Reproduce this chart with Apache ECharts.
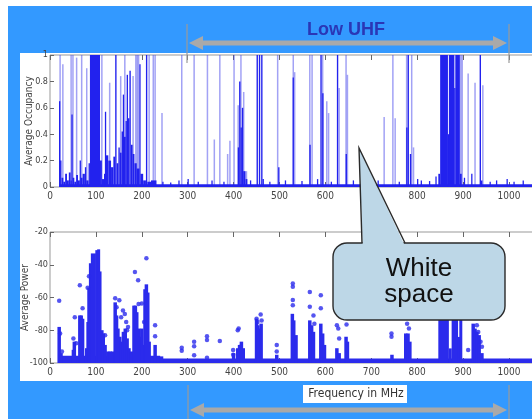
<!DOCTYPE html>
<html><head><meta charset="utf-8">
<script src="https://cdn.jsdelivr.net/npm/echarts/dist/echarts.min.js"></script>
<style>html,body{margin:0;padding:0;background:#fff}#c{width:532px;height:419px}</style>
</head><body><div id="c"></div>
<script>
// ---- data (frequency in MHz) ----
const freqMin = 0, freqMax = 1100, freqStep = 100;
const occTicks = [0, 0.2, 0.4, 0.6, 0.8, 1];
const powTicks = [-100, -80, -60, -40, -20];

// dark occupancy spans [f0, f1, occupancy]
const occDark = [
 [20,1100,0.02],
 [20,22,0.65],[22,25,0.2],[25,29,0.07],[29,33,0.04],[33,37,0.1],[37,41,0.05],[41,45,0.11],[45,47,0.05],[47,49,0.55],[49,53,0.07],[53,57,0.04],[57,61,0.09],[61,65,0.05],[65,67,0.2],[67,71,0.07],[71,76,0.1],[76,79,0.15],[79,84,0.05],[84,87,0.18],
 [87,109,1.0],
 [109,113,0.2],[113,118,0.06],[118,120,0.1],[120,122,0.57],[122,127,0.24],[127,133,0.2],[133,138,0.15],[138,142,0.23],[142,145,1.0],[145,149,0.18],[149,152,0.3],[152,156,0.26],[156,159,0.42],[159,161,0.7],[161,165,0.38],[165,167,0.5],[167,170,0.85],[170,173,0.52],[173,176,0.88],[176,180,0.32],[180,184,0.25],[184,189,0.18],[189,195,0.14],[195,197,0.93],[197,203,0.1],[203,209,0.05],[209,212,1.0],[212,220,0.04],[220,232,0.05],
 [245,247,0.04],[262,264,0.035],[280,282,0.05],[300,302,0.06],[322,324,0.04],[352,354,0.05],[378,380,0.04],[436,438,0.05],[478,480,0.04],[512,514,0.05],[548,550,0.045],[582,584,0.06],[612,614,0.04],[660,662,0.05],[690,692,0.04],[714,716,0.05],[760,762,0.04],[800,802,0.06],[808,810,0.05],[826,828,0.045],[840,842,0.08],[902,904,0.07],[918,920,0.1],[958,960,0.04],[972,974,0.05],[995,997,0.06],[1010,1012,0.04],[1030,1032,0.05],
 [409,412,0.3],[412,415,0.8],[415,418,0.45],[418,421,0.6],[421,426,0.12],[426,430,0.06],
 [450,453,1.0],[455,458,1.0],[460,463,1.0],[463,466,0.06],
 [497,500,0.15],[529,531,0.83],[565,568,0.32],[589,592,1.0],[593,596,0.71],[625,628,1.0],[644,647,0.25],[776,779,0.45],[779,782,1.0],[784,787,0.25],
 [846,850,0.1],[850,867,1.0],[867,869,0.4],[869,881,1.0],[881,883,0.75],[883,893,1.0],[893,897,0.1],
 [936,939,1.0],[939,942,0.05]
];
// light (faint) occupancy lines [f, occupancy]
const occLight = [
 [22,1],[28,0.93],[46,1],[50,1],[58,0.98],[69,1],[80,0.9],[113,1],[130,0.79],[154,0.84],[163,1],[181,0.84],[187,1],[190,1],[193,1],[216,1],[225,1],[229,1],[244,0.56],[287,1],[314,1],[343,1],[358,0.36],[370,1],[387,0.25],[392,0.35],[401,1],[410,0.62],[416,1],[422,0.72],[428,0.12],[496,1],[530,1],[533,0.87],[566,1],[571,1],[594,1],[603,0.65],[607,0.56],[630,0.75],[645,1],[648,0.85],[728,0.53],[747,1],[752,0.52],[777,1],[788,1],[792,0.3],[895,1],[898,1],[911,0.86],[926,0.79],[943,0.77]
];
// power: dense bands [f0, f1, top dBm]
const powSpans = [
 [20,240,-96.5],[240,1100,-98.2],
 [87,89,-40],[89,100,-34],[100,104,-32],[104,108,-31.5],[108,110,-45],
 [846,869,-60],[869,875,-92],[875,889,-60],[889,892,-85],[892,898,-62]
];
// power: dense columns of points [f, top dBm]
const powCols = [
 [20,-79],[24,-95],[51,-93],[53,-88],[65,-72],[68,-72],[71,-74],[80,-92],[83,-76],[85,-55],[113,-81],[116,-83],[120,-90],[126,-94],[131,-94],[136,-94],[142,-64],[145,-72],[148,-80],[152,-85],[156,-88],[160,-82],[164,-80],[168,-86],[172,-92],[178,-94],[183,-66],[186,-66],[189,-70],[193,-80],[197,-85],[200,-80],[204,-90],[207,-56],[210,-53],[213,-58],[216,-88],[229,-90],[243,-97],
 [400,-95],[409,-92],[413,-90],[417,-88],[421,-92],[450,-74],[453,-78],[457,-80],[460,-77],[494,-96],[528,-71],[531,-75],[536,-84],[566,-75],[570,-78],[574,-82],[590,-77],[594,-83],[598,-90],[625,-92],[630,-95],[645,-85],[648,-88],[745,-96],[775,-83],[780,-83],[784,-88],[922,-77],[926,-80],[930,-82],[935,-84],[941,-95]
];
// power: isolated points [f, dBm]
const powDots = [
 [20,-62],[22,-82],[26,-93],[51,-85],[54,-72],[57,-88],[65,-52.5],[71,-66.5],[82,-54],[85,-47],[120,-83],[142,-60.5],[145,-66],[151,-61.7],[155,-72],[159,-68],[163,-70],[166,-75],[168,-80],[170,-78],[185,-44.5],[192,-49.5],[193,-64],[200,-63.6],[205,-75],[210,-36],[229,-77],[229,-83.6],[287,-90.7],[287,-92.5],[314,-87],[314,-89.7],[314,-95.2],[342,-83.6],[342,-86],[342,-96.8],[370,-86.6],[399,-92],[399,-95],[409,-80],[411,-79],[415,-90],[450,-73],[452,-75],[459,-70.4],[461,-74],[494,-89],[494,-93],[529,-51.5],[529,-53.5],[529,-61.6],[529,-64.7],[566,-56.6],[566,-65.7],[590,-58.6],[590,-66.5],[574,-71],[576,-76],[625,-77],[628,-79],[630,-85],[646,-76.5],[744,-82],[744,-84],[778,-76],[782,-79],[911,-92],[930,-77],[933,-81],[938,-87],[941,-90]
];

const DARK = '#2222ee';
const LIGHT = 'rgba(70,70,235,0.5)';
const DOT = '#2b2bec';
const tickFont = "'Liberation Sans Narrow','DejaVu Sans Condensed',sans-serif";

function spanRender(base, minW, pad) {
  return function (params, api) {
    const p0 = api.coord([api.value(0), base]);
    const p1 = api.coord([api.value(1), api.value(2)]);
    let w = p1[0] - p0[0]; let x = p0[0];
    if (w < minW) { x -= (minW - w) / 2; w = minW; }
    return { type: 'rect', shape: { x: x, y: p1[1] - pad, width: w, height: p0[1] - p1[1] + pad * 2 },
      style: { fill: api.visual('color') } };
  };
}
function lineRender(base, w, pad) {
  return function (params, api) {
    const p0 = api.coord([api.value(0), base]);
    const p1 = api.coord([api.value(0), api.value(1)]);
    return { type: 'rect', shape: { x: p0[0] - w / 2, y: p1[1] - pad, width: w, height: p0[1] - p1[1] + pad * 2 },
      style: { fill: api.visual('color') } };
  };
}

const rightPad = 532 - 50 - (freqMax - freqMin) * 0.459;
const axisLbl = { fontFamily: tickFont, fontSize: 10, color: '#444' };
const yLbl = { fontFamily: tickFont, fontSize: 9, color: '#444' };
function xAx(gi, pos, labels) {
  return { type: 'value', gridIndex: gi, position: pos, min: freqMin, max: freqMax, interval: freqStep,
    axisLine: { show: false }, splitLine: { show: false },
    axisTick: { show: true, inside: true, length: 5, lineStyle: { color: '#666' } },
    axisLabel: labels ? Object.assign({ show: true, margin: 4, formatter: v => String(v) }, axisLbl) : { show: false } };
}
const chart = echarts.init(document.getElementById('c'), null, { renderer: 'canvas' });
chart.setOption({
  animation: false,
  backgroundColor: '#ffffff',
  grid: [
    { left: 50, top: 55, right: rightPad, height: 132, show: true, borderColor: '#999', borderWidth: 1, backgroundColor: '#fff',
      containLabel: false, outerBoundsMode: 'none' },
    { left: 50, top: 232, right: rightPad, height: 131, show: true, borderColor: '#999', borderWidth: 1, backgroundColor: '#fff',
      containLabel: false, outerBoundsMode: 'none' }
  ],
  xAxis: [xAx(0, 'bottom', true), xAx(0, 'top', false), xAx(1, 'bottom', true), xAx(1, 'top', false)],
  yAxis: [
    { type: 'value', gridIndex: 0, min: occTicks[0], max: occTicks[occTicks.length - 1], interval: 0.2,
      axisLine: { show: false }, splitLine: { show: false },
      axisTick: { inside: true, length: 4, lineStyle: { color: '#666' } },
      axisLabel: Object.assign({ margin: 2 }, yLbl),
      name: 'Average Occupancy', nameLocation: 'middle', nameGap: 16, nameMoveOverlap: false,
      nameTextStyle: { fontFamily: tickFont, fontSize: 10, color: '#444' } },
    { type: 'value', gridIndex: 1, min: powTicks[0], max: powTicks[powTicks.length - 1], interval: 20,
      axisLine: { show: false }, splitLine: { show: false },
      axisTick: { inside: true, length: 4, lineStyle: { color: '#666' } },
      axisLabel: Object.assign({ margin: 2 }, yLbl),
      name: 'Average Power', nameLocation: 'middle', nameGap: 20, nameMoveOverlap: false,
      nameTextStyle: { fontFamily: tickFont, fontSize: 10, color: '#444' } }
  ],
  series: [
    { type: 'custom', xAxisIndex: 0, yAxisIndex: 0, data: occLight, itemStyle: { color: LIGHT },
      renderItem: lineRender(0, 1.5, 0), encode: { x: 0, y: 1 }, z: 2, clip: true },
    { type: 'custom', xAxisIndex: 0, yAxisIndex: 0, data: occDark, itemStyle: { color: DARK },
      renderItem: spanRender(0, 1.3, 0), encode: { x: [0, 1], y: 2 }, z: 3, clip: true },
    { type: 'custom', xAxisIndex: 2, yAxisIndex: 1, data: powSpans, itemStyle: { color: DOT },
      renderItem: spanRender(-100, 3, 1.5), encode: { x: [0, 1], y: 2 }, z: 3, clip: true },
    { type: 'custom', xAxisIndex: 2, yAxisIndex: 1, data: powCols, itemStyle: { color: DOT },
      renderItem: lineRender(-100, 3.5, 1.7), encode: { x: 0, y: 1 }, z: 3, clip: true },
    { type: 'scatter', xAxisIndex: 2, yAxisIndex: 1, data: powDots, symbolSize: 4.5,
      itemStyle: { color: DOT }, z: 4 }
  ],
  graphic: [
    { type: 'rect', z: -20, silent: true, shape: { x: 8, y: 6, width: 524, height: 413 }, style: { fill: '#3399ff' } },
    { type: 'rect', z: -19, silent: true, shape: { x: 20, y: 53, width: 512, height: 328 }, style: { fill: '#ffffff' } },
    // Low UHF bracket (top)
    { type: 'line', z: 50, shape: { x1: 187, y1: 24, x2: 187, y2: 63 }, style: { stroke: '#9a9a9a', lineWidth: 1.2 } },
    { type: 'line', z: 50, shape: { x1: 509, y1: 24, x2: 509, y2: 63 }, style: { stroke: '#9a9a9a', lineWidth: 1.2 } },
    { type: 'line', z: 50, shape: { x1: 200, y1: 43, x2: 496, y2: 43 }, style: { stroke: '#a9a9a9', lineWidth: 5 } },
    { type: 'polygon', z: 50, shape: { points: [[189, 43], [203, 36], [203, 50]] }, style: { fill: '#a9a9a9' } },
    { type: 'polygon', z: 50, shape: { points: [[507, 43], [493, 36], [493, 50]] }, style: { fill: '#a9a9a9' } },
    { type: 'text', z: 50, style: { x: 346, y: 30, text: 'Low UHF', align: 'center', verticalAlign: 'middle',
      font: 'bold 18px "Liberation Sans", Arial, sans-serif', fill: '#2a36b6' } },
    // bottom bracket
    { type: 'line', z: 50, shape: { x1: 188, y1: 385, x2: 188, y2: 419 }, style: { stroke: '#9a9a9a', lineWidth: 1.2 } },
    { type: 'line', z: 50, shape: { x1: 509, y1: 385, x2: 509, y2: 419 }, style: { stroke: '#9a9a9a', lineWidth: 1.2 } },
    { type: 'line', z: 50, shape: { x1: 202, y1: 410, x2: 496, y2: 410 }, style: { stroke: '#a9a9a9', lineWidth: 5 } },
    { type: 'polygon', z: 50, shape: { points: [[190, 410], [204, 403], [204, 417]] }, style: { fill: '#a9a9a9' } },
    { type: 'polygon', z: 50, shape: { points: [[507, 410], [493, 403], [493, 417]] }, style: { fill: '#a9a9a9' } },
    // x axis title box
    { type: 'rect', z: 50, shape: { x: 303, y: 385, width: 104, height: 18 }, style: { fill: '#ffffff' } },
    { type: 'text', z: 51, style: { x: 356, y: 394, text: 'Frequency in MHz', align: 'center', verticalAlign: 'middle',
      font: '12px ' + tickFont, fill: '#333' } },
    // callout: body, tail fill, tail outline
    { type: 'rect', z: 60, shape: { x: 333, y: 243, width: 172, height: 77, r: 14 },
      style: { fill: '#bdd7e7', stroke: '#2a2a2a', lineWidth: 1.4 } },
    { type: 'polygon', z: 61, shape: { points: [[362.7, 244.5], [359, 148], [404.3, 244.5]] },
      style: { fill: '#bdd7e7' } },
    { type: 'polyline', z: 62, shape: { points: [[362, 243], [359, 148], [405, 243]] },
      style: { fill: null, stroke: '#2a2a2a', lineWidth: 1.4 } },
    { type: 'text', z: 63, style: { x: 419, y: 269, text: 'White', align: 'center', verticalAlign: 'middle',
      font: '26px "Liberation Sans", Arial, sans-serif', fill: '#111' } },
    { type: 'text', z: 63, style: { x: 419, y: 295, text: 'space', align: 'center', verticalAlign: 'middle',
      font: '26px "Liberation Sans", Arial, sans-serif', fill: '#111' } }
  ]
});
</script></body></html>
